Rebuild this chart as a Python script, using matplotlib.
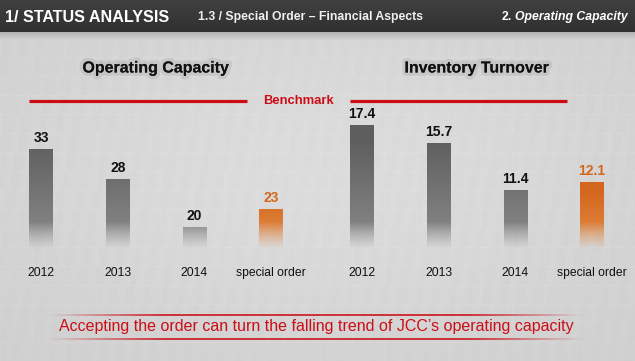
import numpy as np
import matplotlib.pyplot as plt
from matplotlib import patheffects as pe

categories = ["2012", "2013", "2014", "special order"]
capacity = [33, 28, 20, 23]
turnover = [17.4, 15.7, 11.4, 12.1]
capacity_benchmark = 41.0
turnover_benchmark = 19.6

W, H = 635, 361
plt.rcParams['font.family'] = ['Liberation Sans', 'DejaVu Sans']
fig = plt.figure(figsize=(W / 100, H / 100), dpi=100)

# background wall + header band (pixel coords)
bg = fig.add_axes([0, 0, 1, 1])
bg.set_xlim(0, W)
bg.set_ylim(H, 0)
bg.axis('off')

yy, xx = np.mgrid[0:H, 0:W]
row = yy // 19
wall = 0.80 + 0.06 * np.exp(-((xx - 320) / 380) ** 2 - ((yy - 170) / 200) ** 2)
wall = wall + 0.012 * ((yy % 19) == 0) + 0.010 * (((xx + (row % 2) * 32) % 64) == 0)
wall = wall + 0.004 * np.sin(xx * 0.37 + row * 1.3)
# header
hdr = yy < 32
wall = np.where(hdr, 0.25 - 0.06 * yy / 32, wall)
strip = (yy >= 32) & (yy < 40)
wall = np.where(strip, 0.70 + 0.13 * (yy - 32) / 8, wall)
bg.imshow(wall, cmap='gray', vmin=0, vmax=1, extent=(0, W, H, 0),
          aspect='auto', interpolation='bilinear')

bg.text(5, 17, "1/ STATUS ANALYSIS", color='white', fontsize=11.6,
        fontweight='bold', va='center', ha='left')
bg.text(198, 17, "1.3 / Special Order \u2013 Financial Aspects", color='#f0f0f0',
        fontsize=8.8, fontweight='bold', va='center', ha='left')
bg.text(502, 17, "2.", color='white', fontsize=8.8, fontweight='bold',
        va='center', ha='left')
bg.text(515, 17, "Operating Capacity", color='white', fontsize=8.8,
        fontweight='bold', style='italic', va='center', ha='left')

shadow = [pe.withStroke(linewidth=5, foreground=(0.45, 0.45, 0.45, 0.15))]
bg.text(156, 68, "Operating Capacity", fontsize=11.5, fontweight='bold',
        color='#111111', ha='center', va='center', path_effects=shadow)
bg.text(477, 68, "Inventory Turnover", fontsize=11.5, fontweight='bold',
        color='#111111', ha='center', va='center', path_effects=shadow)
bg.text(298, 101, "Benchmark", fontsize=9.4, fontweight='bold',
        color='#cc0d16', ha='center', va='center')

# bottom message with faded red rules
fade = np.clip(np.sin(np.linspace(0, np.pi, 400)) * 1.6, 0, 1)
rule = np.zeros((1, 400, 4))
rule[..., 0] = 0.80
rule[..., 1] = 0.05
rule[..., 2] = 0.08
rule[0, :, 3] = fade * 0.8
for yr in (315, 339):
    bg.imshow(rule, extent=(49, 583, yr + 1, yr - 1), aspect='auto',
              interpolation='bilinear')
bg.text(316, 327, "Accepting the order can turn the falling trend of JCC\u2019s operating capacity",
        fontsize=11.5, color='#cc0d16', ha='center', va='center')
bg.set_xlim(0, W)
bg.set_ylim(H, 0)


def bar_chart(left_px, centers_px0, base, ppu, values, bench, bench_span):
    spacing = 76.7
    ax = fig.add_axes([left_px / W, (H - 250) / H, 320 / W, 160 / H])
    x0 = (left_px - centers_px0) / spacing
    x1 = (left_px + 320 - centers_px0) / spacing
    ytop = base + 160 / ppu
    xs = np.arange(len(values))
    bars = ax.bar(xs, np.array(values) - base, bottom=base, width=0.31,
                  color='none', edgecolor='none')
    ys = np.linspace(base, ytop, 300)
    hpx = (ys - base) * ppu
    alpha = np.clip(hpx / 28, 0, 1) ** 1.2
    for i, b in enumerate(bars):
        img = np.zeros((300, 1, 4))
        if i == len(values) - 1:
            k = np.clip(1 - hpx / 60, 0, 1)
            img[:, 0, 0] = 0.83 + 0.06 * k
            img[:, 0, 1] = 0.40 + 0.16 * k
            img[:, 0, 2] = 0.11 + 0.18 * k
        else:
            k = np.clip(1 - hpx / 110, 0, 1)
            g = 0.37 + 0.18 * k
            img[:, 0, 0] = g
            img[:, 0, 1] = g
            img[:, 0, 2] = g
        img[:, 0, 3] = alpha
        im = ax.imshow(img, extent=(i - 0.16, i + 0.16, base, ytop), origin='lower',
                       aspect='auto', interpolation='bilinear')
        im.set_clip_path(b)
        col = '#d4661c' if i == len(values) - 1 else '#111111'
        ax.annotate(f"{values[i]:g}", (i, values[i]), xytext=(0, 3),
                    textcoords='offset points', ha='center', va='bottom',
                    fontsize=10, fontweight='bold', color=col)
        ax.annotate(categories[i], (i, base), xytext=(0, -16.5),
                    textcoords='offset points', ha='center', va='center',
                    fontsize=8.7, color='#111111', annotation_clip=False)
    ax.hlines(bench, bench_span[0], bench_span[1], color='#cc0d16', lw=2.3)
    ax.set_xlim(x0, x1)
    ax.set_ylim(base, ytop)
    ax.axis('off')
    return ax


bar_chart(0, 41, 16.2, 6.0, capacity, capacity_benchmark, (-0.156, 2.69))
bar_chart(320, 362, 5.86, 10.83, turnover, turnover_benchmark, (-0.156, 2.67))

fig.savefig("out.png", dpi=100)
